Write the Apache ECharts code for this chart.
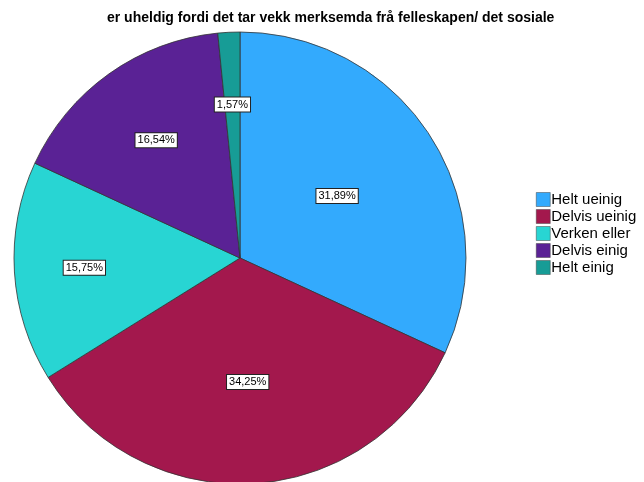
<!DOCTYPE html>
<html><head><meta charset="utf-8">
<script src="https://cdn.jsdelivr.net/npm/echarts@6/dist/echarts.min.js"></script>
<style>html,body{margin:0;padding:0;background:#fff}#c{width:644px;height:482px}</style>
</head><body><div id="c"></div>
<script>
var categories = ['Helt ueinig', 'Delvis ueinig', 'Verken eller', 'Delvis einig', 'Helt einig'];
var values = [31.89, 34.25, 15.75, 16.54, 1.57];
var colors = ['#33aafd', '#a3184d', '#28d5d3', '#5a2295', '#179c96'];
var labelFrac = [0.51, 0.55, 0.69, 0.64, 0.68];

var cx = 240, cy = 258, R = 226;
var total = values.reduce(function(a,b){return a+b;},0);
var mids = [], acc = 0;
values.forEach(function(v){ mids.push((acc + v/2)/total*2*Math.PI); acc += v; });

var chart = echarts.init(document.getElementById('c'), null, {renderer:'canvas'});
chart.setOption({
  animation: false,
  title: {
    text: 'er uheldig fordi det tar vekk merksemda frå felleskapen/ det sosiale',
    left: 102, top: 6,
    textStyle: {fontFamily: 'Liberation Sans, Arial, sans-serif', fontSize: 14, fontWeight: 'bold', color: '#000'}
  },
  legend: {
    orient: 'vertical', left: 531, top: 186,
    itemWidth: 14, itemHeight: 14, itemGap: 0,
    icon: 'rect',
    itemStyle: {borderColor: '#444', borderWidth: 0.5},
    textStyle: {fontFamily: 'Liberation Sans, Arial, sans-serif', fontSize: 15, lineHeight: 17, color: '#000', padding: [0,0,0,-4]},
    data: categories
  },
  series: [{
    type: 'pie',
    center: [cx, cy], radius: R,
    startAngle: 90, clockwise: true,
    silent: true,
    itemStyle: {borderColor: '#333', borderWidth: 0.8},
    label: {
      position: 'inside',
      formatter: function(p){ return p.value.toFixed(2).replace('.', ',') + '%'; },
      fontFamily: 'Liberation Sans, Arial, sans-serif', fontSize: 11, color: '#000',
      backgroundColor: '#fff', borderColor: '#222', borderWidth: 1,
      padding: [2, 2, 1, 2]
    },
    labelLayout: function(p){
      var i = p.dataIndex, a = mids[i], r = R*labelFrac[i];
      return {x: cx + r*Math.sin(a), y: cy - r*Math.cos(a), align: 'center', verticalAlign: 'middle'};
    },
    data: categories.map(function(n,i){ return {name:n, value:values[i], itemStyle:{color:colors[i]}}; })
  }]
});
</script></body></html>
